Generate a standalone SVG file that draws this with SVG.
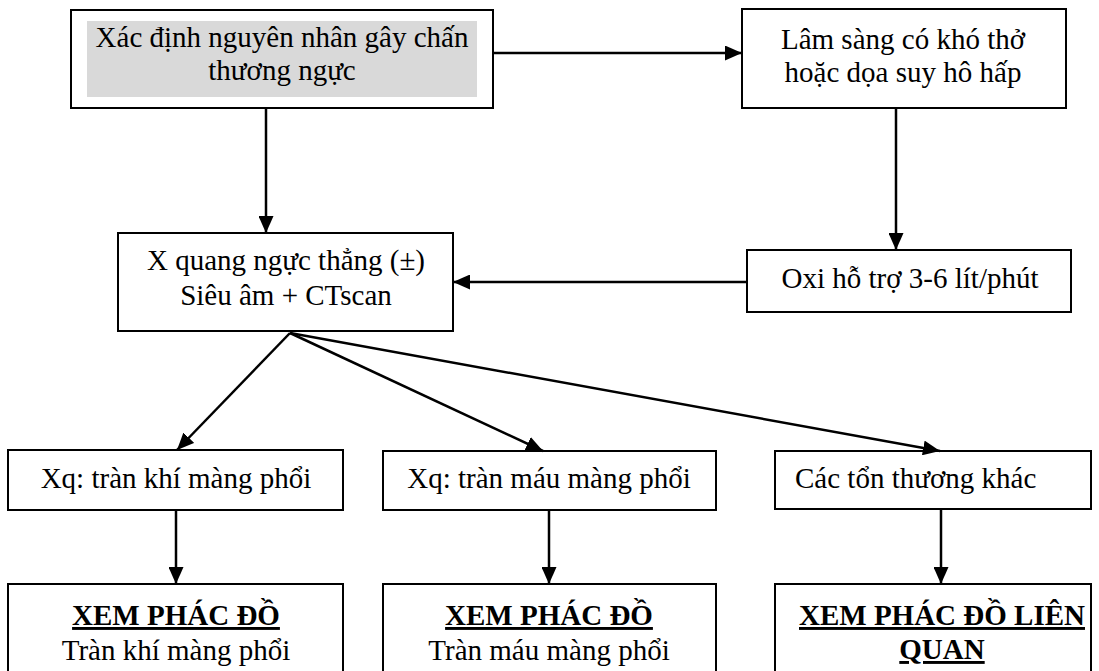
<svg xmlns="http://www.w3.org/2000/svg" width="1099" height="671" viewBox="0 0 1099 671">
<style>
.box{fill:#fff;stroke:#000;stroke-width:2}
.t{font-family:"Liberation Serif","Times New Roman",serif;font-size:29px;fill:#000;text-anchor:middle}
.b{font-weight:bold;text-decoration:underline}
.c{fill:none;stroke:#000;stroke-width:2.5}
</style>
<defs>
<marker id="ah" markerUnits="userSpaceOnUse" markerWidth="17" markerHeight="15" refX="17" refY="7.5" orient="auto">
<path d="M0,0 L17,7.5 L0,15 Z" fill="#000"/>
</marker>
</defs>
<rect width="1099" height="671" fill="#fff"/>
<g id="n1">
<rect class="box" x="71" y="10" width="422" height="98"/>
<rect x="87" y="21" width="390" height="76" fill="#d9d9d9"/>
<text class="t" x="282" y="47">Xác định nguyên nhân gây chấn</text>
<text class="t" x="282" y="80">thương ngực</text>
</g>
<g id="n2">
<rect class="box" x="742" y="9" width="324" height="99"/>
<text class="t" x="903" y="49">Lâm sàng có khó thở</text>
<text class="t" x="903" y="82">hoặc dọa suy hô hấp</text>
</g>
<g id="n3">
<rect class="box" x="118" y="233" width="335" height="98"/>
<text class="t" x="286" y="270">X quang ngực thẳng (±)</text>
<text class="t" x="286" y="305">Siêu âm + CTscan</text>
</g>
<g id="n4">
<rect class="box" x="747" y="250" width="324" height="62"/>
<text class="t" x="910" y="288">Oxi hỗ trợ 3-6 lít/phút</text>
</g>
<g id="n5">
<rect class="box" x="8" y="450" width="335" height="60"/>
<text class="t" x="176" y="488">Xq: tràn khí màng phổi</text>
</g>
<g id="n6">
<rect class="box" x="383" y="451" width="333" height="59"/>
<text class="t" x="549" y="488">Xq: tràn máu màng phổi</text>
</g>
<g id="n7">
<rect class="box" x="775" y="451" width="316" height="58"/>
<text class="t" x="795" y="488" style="text-anchor:start">Các tổn thương khác</text>
</g>
<g id="n8">
<rect class="box" x="8" y="584" width="335" height="100"/>
<text class="t b" x="176" y="625">XEM PHÁC ĐỒ</text>
<text class="t" x="176" y="660">Tràn khí màng phổi</text>
</g>
<g id="n9">
<rect class="box" x="383" y="584" width="333" height="100"/>
<text class="t b" x="549" y="625">XEM PHÁC ĐỒ</text>
<text class="t" x="549" y="660">Tràn máu màng phổi</text>
</g>
<g id="n10">
<rect class="box" x="775" y="584" width="316" height="100"/>
<text class="t b" x="942" y="625">XEM PHÁC ĐỒ LIÊN</text>
<text class="t b" x="942" y="659">QUAN</text>
</g>
<g id="connectors">
<line class="c" x1="493" y1="53" x2="742" y2="53" marker-end="url(#ah)"/>
<line class="c" x1="266" y1="108" x2="266" y2="233" marker-end="url(#ah)"/>
<line class="c" x1="896" y1="108" x2="896" y2="250" marker-end="url(#ah)"/>
<line class="c" x1="747" y1="282" x2="453" y2="282" marker-end="url(#ah)"/>
<line class="c" x1="290" y1="333" x2="177" y2="450" marker-end="url(#ah)"/>
<line class="c" x1="290" y1="333" x2="543" y2="451" marker-end="url(#ah)"/>
<line class="c" x1="290" y1="333" x2="940" y2="451" marker-end="url(#ah)"/>
<line class="c" x1="176" y1="510" x2="176" y2="584" marker-end="url(#ah)"/>
<line class="c" x1="549" y1="510" x2="549" y2="584" marker-end="url(#ah)"/>
<line class="c" x1="941" y1="509" x2="941" y2="584" marker-end="url(#ah)"/>
</g>
</svg>
